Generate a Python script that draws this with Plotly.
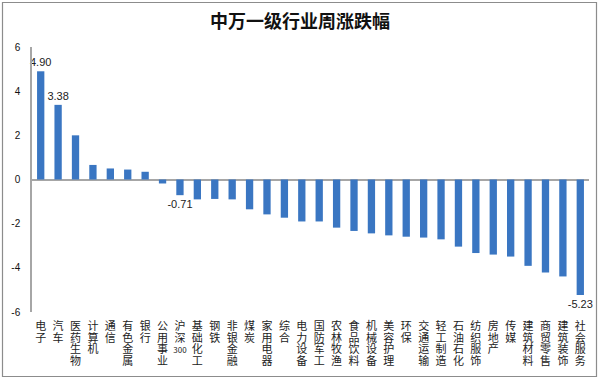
import plotly.graph_objects as go

categories = ["电子", "汽车", "医药生物", "计算机", "通信", "有色金属", "银行", "公用事业",
              "沪深300", "基础化工", "钢铁", "非银金融", "煤炭", "家用电器", "综合", "电力设备",
              "国防军工", "农林牧渔", "食品饮料", "机械设备", "美容护理", "环保", "交通运输",
              "轻工制造", "石油石化", "纺织服饰", "房地产", "传媒", "建筑材料", "商贸零售",
              "建筑装饰", "社会服务"]
values = [4.90, 3.38, 2.00, 0.66, 0.50, 0.45, 0.35, -0.18,
          -0.71, -0.90, -0.88, -0.90, -1.35, -1.58, -1.73, -1.90,
          -1.90, -2.18, -2.33, -2.44, -2.53, -2.59, -2.63,
          -2.71, -3.04, -3.33, -3.40, -3.49, -3.91, -4.21,
          -4.39, -5.23]
labelled = ["电子", "汽车", "沪深300", "社会服务"]
y_ticks = [-6, -4, -2, 0, 2, 4, 6]


def vertical(s):
    if s == "沪深300":
        parts = ["沪", "深", "300"]
    else:
        parts = list(s)
    out = []
    for p in parts:
        size = 8 if p == "300" else 11
        out.append(f"<span style='font-size:{size}px'>{p}</span>")
    return "<br>".join(out)


texts = [f"{v:.2f}" if c in labelled else "" for c, v in zip(categories, values)]

fig = go.Figure(go.Bar(
    x=categories, y=values,
    marker=dict(color="#3a76c2", line=dict(width=0)),
    text=texts, textposition="outside", cliponaxis=False, constraintext="none",
    textfont=dict(size=11, color="#222", family="Liberation Sans"),
    width=0.42,
))

W, H = 600, 380
L, R, T, B = 32, 11, 47, 68
pw, ph = W - L - R, H - T - B


def px_x(p):
    return (p - L) / pw


def px_y(p):
    return (H - B - p) / ph


fig.update_layout(
    width=W, height=H,
    margin=dict(l=L, r=R, t=T, b=B, autoexpand=False),
    paper_bgcolor="white", plot_bgcolor="white",
    showlegend=False,
    font=dict(family="Noto Sans CJK SC", color="#222"),
    title=dict(text="<b>中万一级行业周涨跌幅</b>", x=0.5, xanchor="center",
               y=1 - 22 / H, yanchor="middle",
               font=dict(size=18, family="Noto Sans CJK SC", color="#111")),
    xaxis=dict(
        tickmode="array", tickvals=categories,
        ticktext=[vertical(c) for c in categories],
        tickangle=0, showline=False, showgrid=False, zeroline=False,
        ticks="", tickfont=dict(size=9, family="Noto Sans CJK SC", color="#222"),
        range=[-0.5, len(categories) - 0.5],
        ticklabelstandoff=8,
    ),
    yaxis=dict(
        range=[-6, 6], tickvals=y_ticks, ticktext=[str(t) for t in y_ticks],
        showgrid=False, zeroline=True, zerolinecolor="#a6a6a6", zerolinewidth=1.5,
        showline=True, linecolor="#a6a6a6", linewidth=1.5, ticks="",
        tickfont=dict(size=10, family="Liberation Sans", color="#111"),
        ticklabelstandoff=8,
    ),
    shapes=[dict(type="rect", xref="paper", yref="paper",
                 x0=px_x(2.5), x1=px_x(596.5), y0=px_y(376.5), y1=px_y(2.5),
                 line=dict(color="#8c8c8c", width=1.2), fillcolor="rgba(0,0,0,0)",
                 layer="below")],
)

fig.write_html("out.html", config={"displayModeBar": False},
               post_script="document.body.style.margin='0';document.body.style.overflow='hidden';")
